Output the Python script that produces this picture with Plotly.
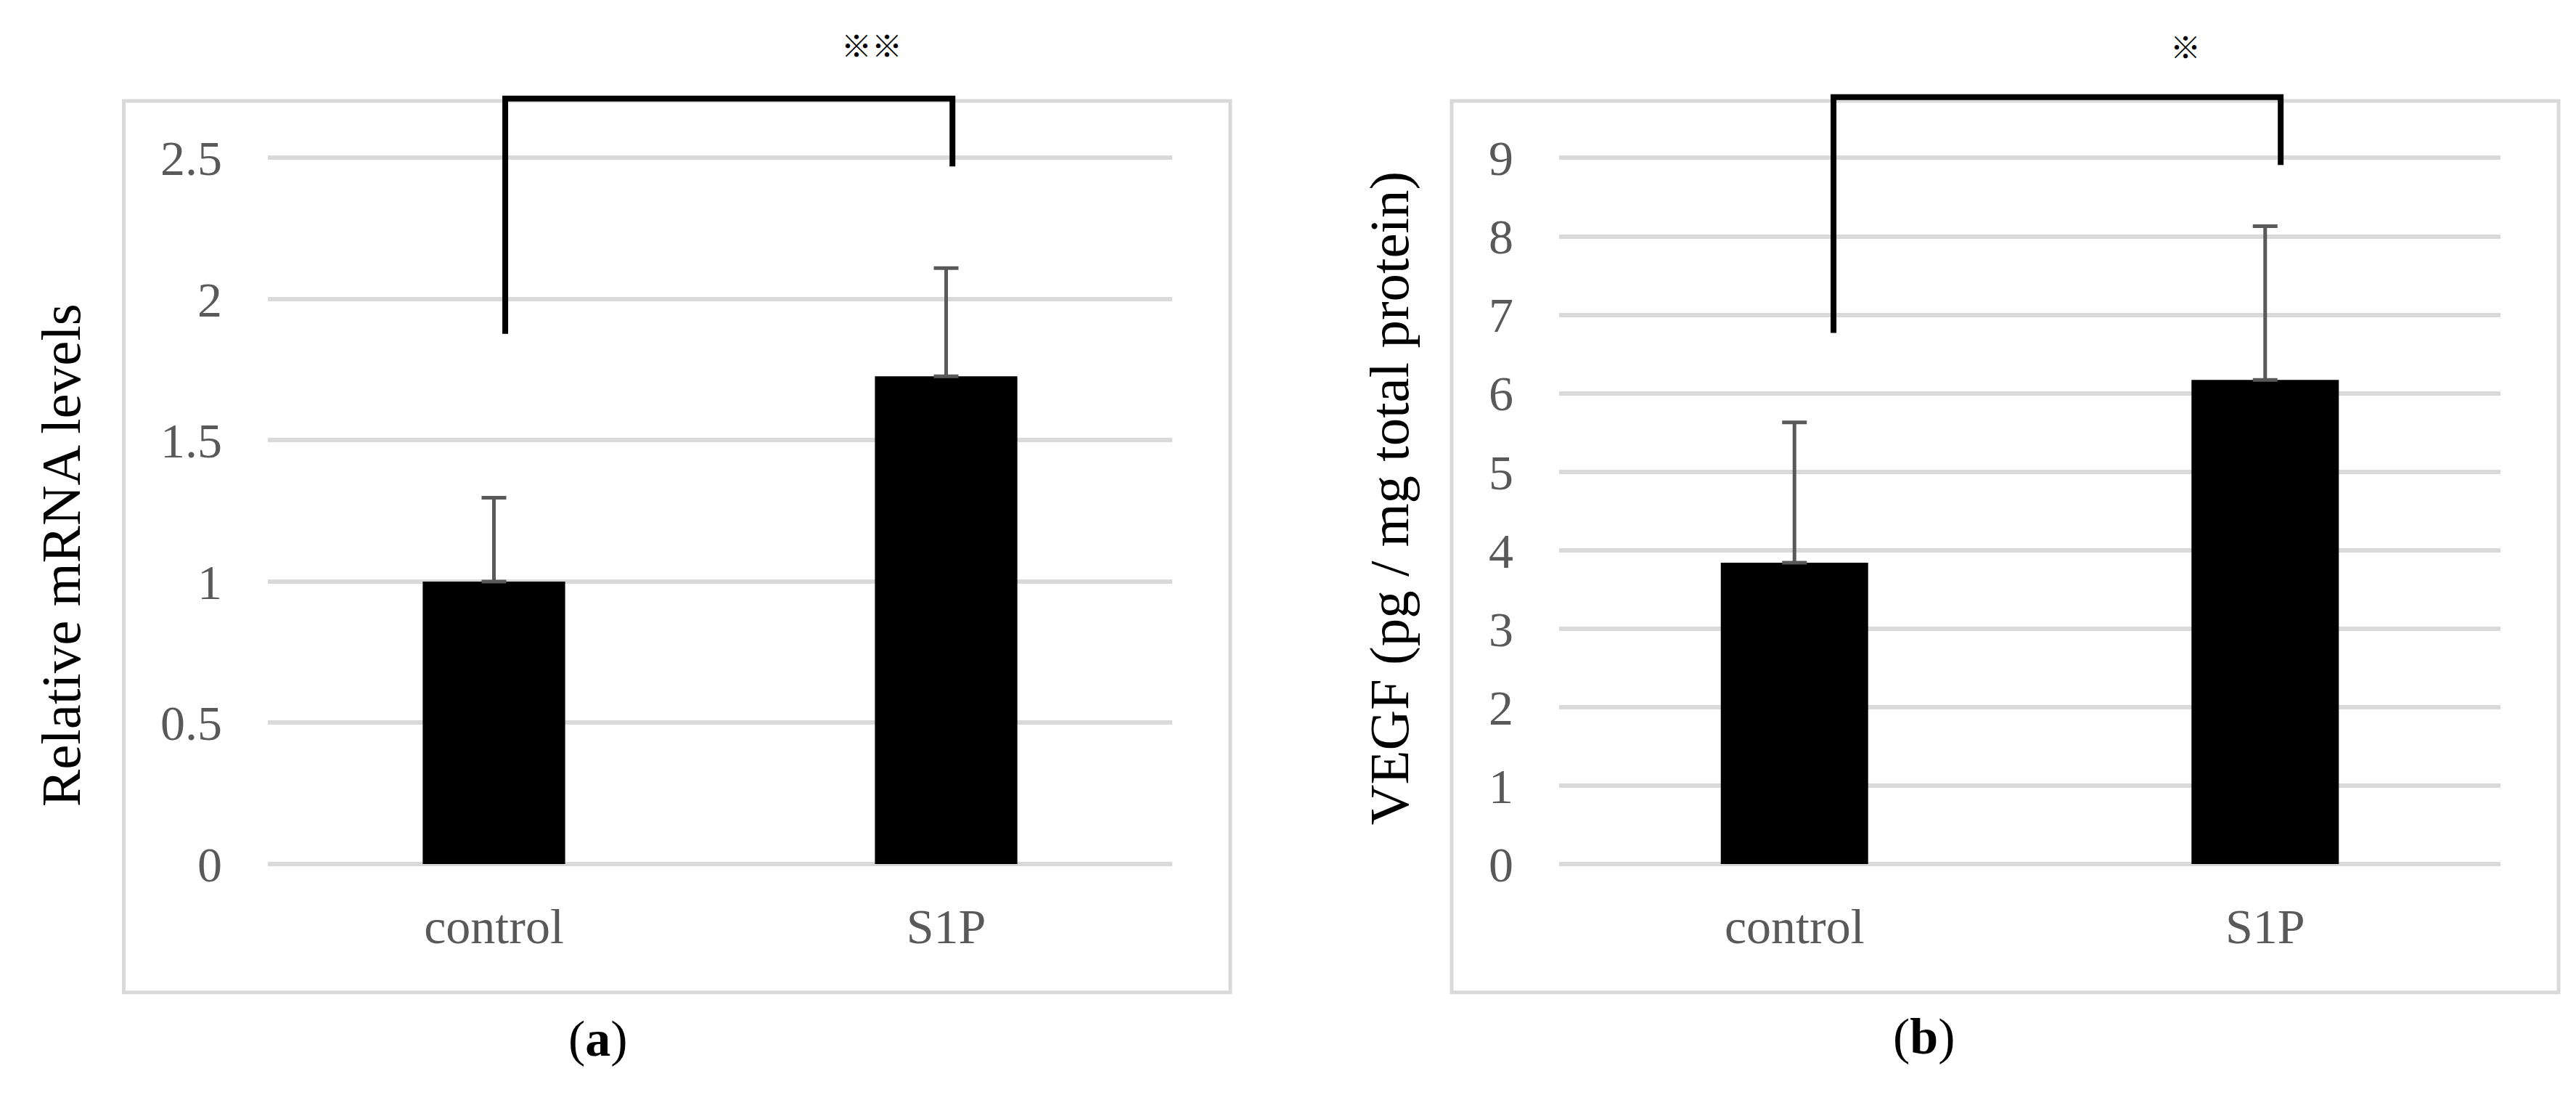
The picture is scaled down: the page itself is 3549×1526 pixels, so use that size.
import plotly.graph_objects as go

# ---- data ----
categories = ["control", "S1P"]
mrna_values = [1.00, 1.727]
mrna_errors = [0.297, 0.383]
vegf_values = [3.84, 6.17]
vegf_errors = [1.79, 1.96]
mrna_ticks = [0, 0.5, 1, 1.5, 2, 2.5]
mrna_ticklabels = ["0", "0.5", "1", "1.5", "2", "2.5"]
vegf_ticks = [0, 1, 2, 3, 4, 5, 6, 7, 8, 9]
vegf_ticklabels = [str(v) for v in vegf_ticks]
sig_a = "※※"
sig_b = "※"
title_a = "Relative mRNA levels"
title_b = "VEGF (pg / mg total protein)"

W, H = 3549, 1526
def px(x):
    return x / W
def py(y):
    return 1 - y / H

GRID = "#d9d9d9"
TXT = "#595959"
SERIF = "Liberation Serif"

fig = go.Figure()
xpos = list(range(len(categories)))

fig.add_trace(go.Bar(
    x=xpos, y=mrna_values, width=0.315, marker=dict(color="black", line=dict(width=0)),
    error_y=dict(type="data", array=mrna_errors, arrayminus=[0] * len(mrna_errors),
                 symmetric=False, color=TXT, thickness=5, width=17),
    xaxis="x", yaxis="y", showlegend=False))
fig.add_trace(go.Bar(
    x=xpos, y=vegf_values, width=0.313, marker=dict(color="black", line=dict(width=0)),
    error_y=dict(type="data", array=vegf_errors, arrayminus=[0] * len(vegf_errors),
                 symmetric=False, color=TXT, thickness=5, width=17),
    xaxis="x2", yaxis="y2", showlegend=False))

# significance brackets
fig.add_trace(go.Scatter(x=[0.025, 0.025, 1.014, 1.014], y=[1.877, 2.71, 2.71, 2.47],
                         mode="lines", line=dict(color="black", width=8),
                         xaxis="x", yaxis="y", showlegend=False, hoverinfo="skip"))
fig.add_trace(go.Scatter(x=[0.083, 0.083, 1.033, 1.033], y=[6.77, 9.775, 9.775, 8.91],
                         mode="lines", line=dict(color="black", width=8),
                         xaxis="x2", yaxis="y2", showlegend=False, hoverinfo="skip"))

ydom = [py(1213), py(100)]
common_x = dict(range=[-0.5, 1.5], tickvals=xpos, ticktext=categories, showgrid=False,
                zeroline=False, showline=False, ticks="", ticklabelstandoff=40,
                tickfont=dict(family=SERIF, size=68, color=TXT), fixedrange=True)
common_y = dict(showgrid=True, gridcolor=GRID, gridwidth=6, zeroline=True,
                zerolinecolor=GRID, zerolinewidth=6, showline=False, ticks="",
                ticklabelstandoff=62, tickfont=dict(family=SERIF, size=68, color=TXT),
                fixedrange=True)

fig.update_layout(
    width=W, height=H, margin=dict(l=0, r=0, t=0, b=0),
    paper_bgcolor="white", plot_bgcolor="white",
    xaxis=dict(domain=[px(361), px(1607)], anchor="y", **common_x),
    yaxis=dict(domain=ydom, range=[0, 2.788], tickvals=mrna_ticks,
               ticktext=mrna_ticklabels, anchor="x", **common_y),
    xaxis2=dict(domain=[px(2140), px(3437)], anchor="y2", **common_x),
    yaxis2=dict(domain=ydom, range=[0, 10.037], tickvals=vegf_ticks,
                ticktext=vegf_ticklabels, anchor="x2", **common_y),
)

# frames
for x0, x1 in [(162.5, 1687), (1992, 3517)]:
    fig.add_shape(type="rect", xref="paper", yref="paper",
                  x0=px(x0), x1=px(x1), y0=py(1394.5), y1=py(134.5),
                  line=dict(color=GRID, width=5), fillcolor="rgba(0,0,0,0)", layer="below")

annos = [
    dict(text=title_a, x=px(76), y=py(777), textangle=-90,
         font=dict(family=SERIF, size=77, color="black")),
    dict(text=title_b, x=px(1906), y=py(696), textangle=-90,
         font=dict(family=SERIF, size=77, color="black")),
    dict(text=sig_a, x=px(1193), y=py(54),
         font=dict(family="Noto Sans CJK JP", size=42, color="black")),
    dict(text=sig_b, x=px(3003), y=py(56),
         font=dict(family="Noto Sans CJK JP", size=42, color="black")),
    dict(text="(<b>a</b>)", x=px(816), y=py(1460),
         font=dict(family=SERIF, size=70, color="black")),
    dict(text="(<b>b</b>)", x=px(2643), y=py(1457),
         font=dict(family=SERIF, size=70, color="black")),
]
for a in annos:
    fig.add_annotation(xref="paper", yref="paper", showarrow=False,
                       xanchor="center", yanchor="middle", **a)

fig.write_html("out.html")
